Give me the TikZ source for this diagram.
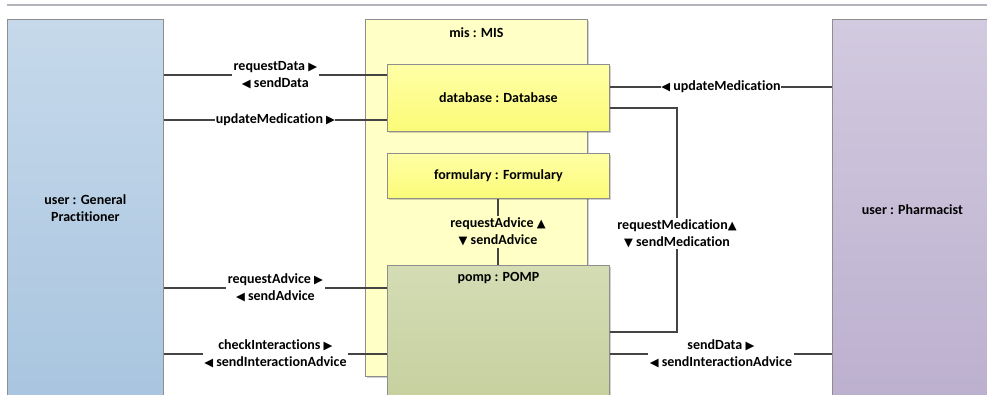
\documentclass[tikz,border=0pt]{standalone}
\usepackage{fontspec}
\setmainfont{Carlito}[Ligatures={NoCommon,NoContextual}]
\newfontfamily\symf{DejaVu Sans}
\usetikzlibrary{shadows}
\definecolor{gpT}{HTML}{C6D9EB}
\definecolor{gpB}{HTML}{A9C5DF}
\definecolor{phT}{HTML}{D2CADF}
\definecolor{phB}{HTML}{BCB0CF}
\definecolor{misC}{HTML}{FFFFC6}
\definecolor{ylT}{HTML}{FFFFA6}
\definecolor{ylB}{HTML}{FBFB78}
\definecolor{poT}{HTML}{D4DCB4}
\definecolor{poB}{HTML}{C6D09E}
\definecolor{bord}{HTML}{8E8E8E}
\definecolor{lineC}{HTML}{444444}
\definecolor{topL}{HTML}{B4B4BC}
\newcommand\arR{{\symf\fontsize{11.5}{10}\selectfont ▶}}
\newcommand\arL{{\symf\fontsize{11.5}{10}\selectfont ◀}}
\newcommand\arU{{\symf\fontsize{11.5}{10}\selectfont ▲}}
\newcommand\arD{{\symf\fontsize{11.5}{10}\selectfont ▼}}
\tikzset{
  box/.style={draw=bord, line width=0.8pt, rectangle, anchor=north west, inner sep=0pt, align=center},
  shad/.style={drop shadow={shadow xshift=1.5pt, shadow yshift=-1.5pt, fill=black, opacity=0.18}},
  yellowbox/.style={box, shad, top color=ylT, bottom color=ylB},
  conn/.style={draw=lineC, line width=1.2pt},
  lbl/.style={midway, fill=white, inner sep=1.5pt, align=center, text=black},
}
\begin{document}
\begin{tikzpicture}[x=1pt, y=-1pt, font=\bfseries\fontsize{14}{17}\selectfont]
\useasboundingbox (0,0) rectangle (987,394);
\clip (0,0) rectangle (987,394);
\coordinate (tl) at (7,5);
\coordinate (tr) at (987,5);
\draw[draw=topL, line width=2pt] (tl) -- (tr);
% MIS container
\node[box, shad, fill=misC, minimum width=222pt, minimum height=357pt] (mis) at (365,19) {};
\node[anchor=north] (misl) at ([yshift=-5pt]mis.north) {mis : MIS};
% components
\node[yellowbox, minimum width=222pt, minimum height=67pt] (db) at (387,64) {database : Database};
\node[yellowbox, minimum width=222pt, minimum height=45pt] (form) at (387,153) {formulary : Formulary};
\node[box, shad, top color=poT, bottom color=poB, minimum width=222pt, minimum height=140pt] (pomp) at (387,265) {};
\node[anchor=north] (pompl) at ([yshift=-4pt]pomp.north) {pomp : POMP};
% actors
\node[box, top color=gpT, bottom color=gpB, minimum width=156pt, minimum height=378pt] (gp) at (7,19) {user : General\\Practitioner};
\node[box, top color=phT, bottom color=phB, minimum width=160pt, minimum height=380pt] (ph) at (832,19) {user : Pharmacist};
% connectors left
\draw[conn] (gp.east |- 0,75) -- node[lbl]{requestData \arR\\\arL\ sendData} (db.west |- 0,75);
\draw[conn] (gp.east |- 0,120) -- node[lbl, inner sep=0.5pt]{updateMedication \arR} (db.west |- 0,120);
\draw[conn] (gp.east |- 0,288) -- node[lbl]{requestAdvice \arR\\\arL\ sendAdvice} (pomp.west |- 0,288);
\draw[conn] (gp.east |- 0,354) -- node[lbl]{checkInteractions \arR\\\arL\ sendInteractionAdvice} (pomp.west |- 0,354);
% formulary - pomp
\draw[conn] (498,0 |- form.south) -- node[lbl, fill=misC]{requestAdvice \arU\\\arD\ sendAdvice} (498,0 |- pomp.north);
% right side
\draw[conn] (db.east |- 0,87) -- node[lbl, inner sep=0.5pt]{\arL\ updateMedication} (ph.west |- 0,87);
\coordinate (c1) at (677,108);
\coordinate (c2) at (677,332);
\draw[conn] (db.east |- c1) -- (c1) -- node[lbl, pos=0.56]{requestMedication\arU\\\arD\ sendMedication} (c2) -- (pomp.east |- c2);
\draw[conn] (pomp.east |- 0,354) -- node[lbl]{sendData \arR\\\arL\ sendInteractionAdvice} (ph.west |- 0,354);
\end{tikzpicture}
\end{document}
